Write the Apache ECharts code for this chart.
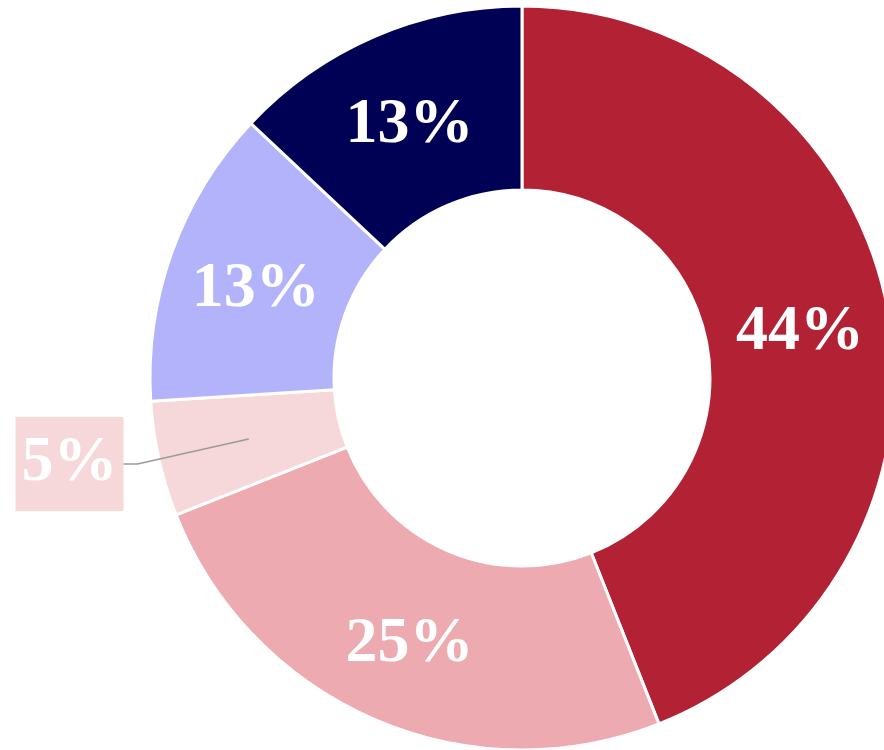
<!DOCTYPE html>
<html>
<head>
    <meta charset="utf-8">
    <script src="https://cdn.jsdelivr.net/npm/echarts@6/dist/echarts.min.js"></script>
    <style>
        html, body { margin: 0; padding: 0; background: #fff; }
    </style>
</head>
<body>
    <div id="donut" style="width: 884px;height:750px;"></div>
    <script type="text/javascript">
        // slices, clockwise from 12 o'clock
        var names = ['A', 'B', 'C', 'D', 'E'];
        var values = [44, 25, 5, 13, 13];
        var colors = ['#b22234', '#edaab0', '#f6d7da', '#b3b3fc', '#000055'];
        var outsideIdx = 2; // the small slice gets its label outside

        var myChart = echarts.init(document.getElementById('donut'));

        var mainData = [], helperData = [];
        for (var i = 0; i < values.length; i++) {
            mainData.push({
                name: names[i], value: values[i],
                itemStyle: { color: colors[i] },
                label: { show: i !== outsideIdx }
            });
            helperData.push({
                name: names[i], value: values[i],
                label: { show: i === outsideIdx, backgroundColor: colors[i] },
                labelLine: { show: i === outsideIdx }
            });
        }

        var labelFont = {
            fontFamily: 'Liberation Serif',
            fontWeight: 'bold',
            fontSize: 64,
            color: '#fff'
        };

        option = {
            animation: false,
            series: [
                {
                    type: 'pie',
                    center: [522, 378],
                    radius: [188, 372],
                    startAngle: 90,
                    clockwise: true,
                    itemStyle: { borderColor: '#fff', borderWidth: 3 },
                    label: Object.assign({ position: 'inside', formatter: '{c}%' }, labelFont),
                    labelLayout: { dy: 7 },
                    labelLine: { show: false },
                    emphasis: { disabled: true },
                    data: mainData
                },
                {
                    // invisible pie used only to anchor the outside label at mid-ring
                    type: 'pie',
                    silent: true,
                    center: [522, 378],
                    radius: [0, 280],
                    startAngle: 90,
                    clockwise: true,
                    z: 3,
                    itemStyle: { color: 'rgba(0,0,0,0)' },
                    label: Object.assign({
                        position: 'outside', formatter: '{c}%',
                        overflow: 'none',
                        distanceToLabelLine: 0,
                        padding: [15, 6, 15, 6], lineHeight: 64
                    }, labelFont),
                    labelLine: {
                        length: 114, length2: 14,
                        lineStyle: { color: '#9a9a9a', width: 1.5 }
                    },
                    emphasis: { disabled: true },
                    data: helperData
                }
            ]
        };
        myChart.setOption(option);
    </script>
</body>
</html>
